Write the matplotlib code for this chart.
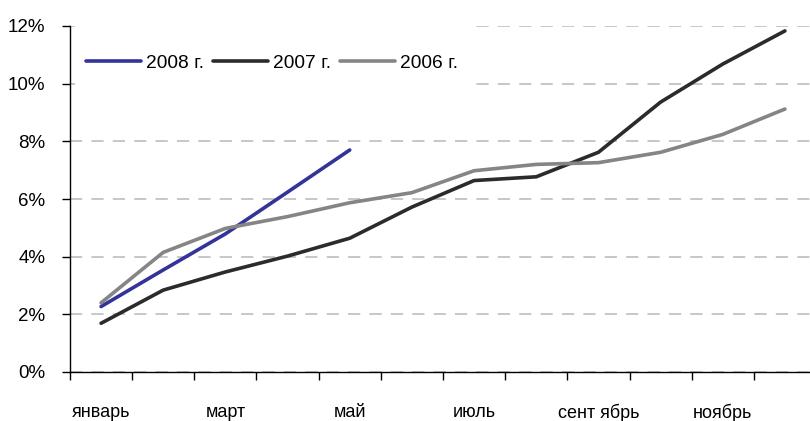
import matplotlib.pyplot as plt
import matplotlib.ticker as ticker
from matplotlib.patches import Rectangle

# ============================================================
# Data
# ============================================================

MONTHS = ["январь", "февраль", "март", "апрель", "май", "июнь",
          "июль", "август", "сентябрь", "октябрь", "ноябрь", "декабрь"]
MONTH_LABELS = ["январь", "март", "май", "июль", "сент ябрь", "ноябрь"]

Y2008 = [2.27, 3.54, 4.79, 6.24, 7.70]
Y2007 = [1.69, 2.84, 3.47, 4.02, 4.64, 5.72, 6.64, 6.77, 7.62, 9.36, 10.68, 11.83]
Y2006 = [2.40, 4.15, 4.98, 5.39, 5.87, 6.22, 6.98, 7.20, 7.26, 7.62, 8.24, 9.12]

plt.rcParams["font.family"] = ["Liberation Sans", "DejaVu Sans"]

fig = plt.figure(figsize=(8.1, 4.21), dpi=100)
ax = fig.add_axes([70 / 810, 49 / 421, 746 / 810, 346 / 421])

x = list(range(len(MONTHS)))
kw = dict(linewidth=2.6, solid_capstyle="round", solid_joinstyle="round", zorder=3)
ax.plot(x[:len(Y2008)], Y2008, color="#333399", label="2008 г.", **kw)
ax.plot(x, Y2007, color="#2b2b2b", label="2007 г.", **kw)
ax.plot(x, Y2006, color="#858585", label="2006 г.", **kw)

ax.set_xlim(-0.5, 11.5)
ax.set_ylim(0, 12)

ax.yaxis.set_major_locator(ticker.MultipleLocator(2))
ax.yaxis.set_major_formatter(ticker.FuncFormatter(lambda v, p: f"{v:.0f}%"))
ax.grid(True, axis="y", color="#b8b8b8", linestyle=(0, (8, 6)), linewidth=1.1)
ax.set_axisbelow(True)

ax.set_xticks([i - 0.5 for i in range(13)])
ax.set_xticklabels([])
ax.set_xticks(x[::2], minor=True)
ax.set_xticklabels(MONTH_LABELS, minor=True)
ax.tick_params(axis="x", which="major", direction="out", length=5.8, width=1)
ax.tick_params(axis="x", which="minor", length=0, pad=23, labelsize=13)
ax.tick_params(axis="y", direction="out", length=5.8, width=1, labelsize=13.5, pad=12)

for side in ("top", "right"):
    ax.spines[side].set_visible(False)
ax.spines["left"].set_linewidth(1)
ax.spines["bottom"].set_linewidth(1)

# белая подложка под легендой (закрывает сетку)
ax.add_patch(Rectangle((0.007, 0.81), 0.53, 0.21, transform=ax.transAxes,
                       facecolor="white", edgecolor="none", zorder=1, clip_on=False))

ax.legend(loc="center left", bbox_to_anchor=(0.0214, 0.893), ncol=3,
          frameon=False, fontsize=13.8, handlelength=2.85, handletextpad=0.3,
          columnspacing=0.45, borderpad=0.0, borderaxespad=0.0)

fig.savefig("out.png", dpi=100)
